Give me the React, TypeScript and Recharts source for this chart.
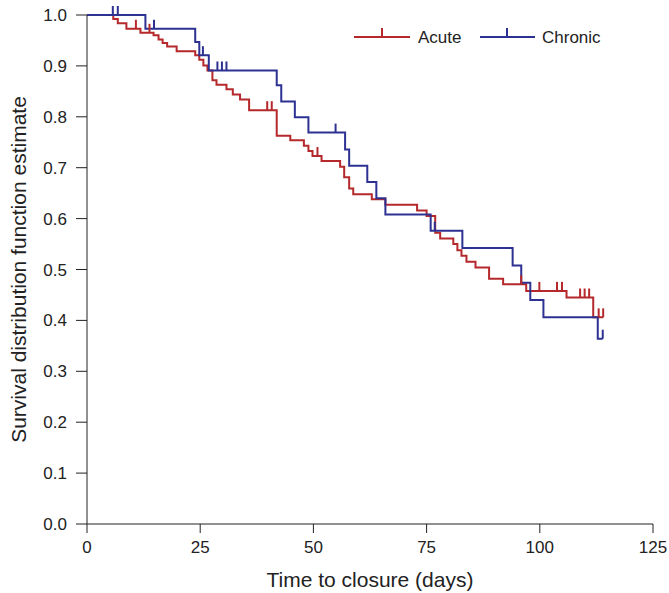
import React from "react";
import { ComposedChart, Line, Scatter, XAxis, YAxis } from "recharts";

const acuteTimes = [0, 5.8, 6.8, 8.7, 11.8, 14.7, 15.8, 16.7, 17.7, 19.8, 23.9, 24.8, 25.7, 26.6, 27.7, 28.6, 30.8, 32.2, 33.8, 35.8, 41.9, 44.9, 47.9, 48.9, 49.8, 51.8, 55.9, 56.8, 57.9, 58.8, 62.9, 65.9, 72.9, 75.0, 76.9, 78.0, 80.9, 81.8, 82.7, 83.8, 85.8, 88.8, 91.9, 97.0, 105.9, 111.8, 114.0];
const acuteSurv = [1.0, 0.992, 0.984, 0.973, 0.965, 0.96, 0.952, 0.945, 0.938, 0.929, 0.921, 0.912, 0.901, 0.891, 0.872, 0.863, 0.854, 0.844, 0.834, 0.813, 0.763, 0.754, 0.743, 0.733, 0.723, 0.713, 0.702, 0.681, 0.659, 0.648, 0.638, 0.627, 0.616, 0.605, 0.572, 0.561, 0.55, 0.538, 0.527, 0.515, 0.504, 0.482, 0.471, 0.458, 0.445, 0.406, 0.406];
const acuteCensored = [10.8, 13.8, 39.8, 40.8, 50.9, 95.9, 99.9, 103.8, 104.9, 108.9, 109.9, 110.9, 113.0, 114.0];

const chronicTimes = [0, 12.9, 23.9, 24.8, 26.9, 41.9, 42.9, 45.9, 48.9, 57.0, 57.9, 61.9, 63.9, 65.9, 75.9, 82.9, 94.0, 95.9, 97.9, 100.8, 112.8, 113.9];
const chronicSurv = [1.0, 0.973, 0.947, 0.921, 0.891, 0.862, 0.83, 0.799, 0.769, 0.736, 0.704, 0.672, 0.64, 0.608, 0.576, 0.542, 0.508, 0.474, 0.44, 0.406, 0.364, 0.364];
const chronicCensored = [5.7, 6.8, 14.8, 25.6, 28.8, 29.8, 30.8, 54.9, 76.8, 113.9];

const seriesNames = ["Acute", "Chronic"];
const xTicks = [0, 25, 50, 75, 100, 125];
const yTicks = [0, 0.1, 0.2, 0.3, 0.4, 0.5, 0.6, 0.7, 0.8, 0.9, 1.0];

const RED = "#b5282b";
const BLUE = "#2d3192";
const FONT = "'Liberation Sans', Arial, sans-serif";
const TXT = "#222";

const toSteps = (times: number[], surv: number[]) => times.map((t, i) => ({ t, s: surv[i] }));
const survAt = (times: number[], surv: number[], x: number) => {
  let v = surv[0];
  for (let i = 0; i < times.length; i++) if (times[i] <= x) v = surv[i];
  return v;
};
const toCensor = (c: number[], times: number[], surv: number[]) => c.map((t) => ({ t, s: survAt(times, surv, t) }));

const acuteData = toSteps(acuteTimes, acuteSurv);
const chronicData = toSteps(chronicTimes, chronicSurv);
const acuteCens = toCensor(acuteCensored, acuteTimes, acuteSurv);
const chronicCens = toCensor(chronicCensored, chronicTimes, chronicSurv);

const tickShape = (color: string) => (props: any) => {
  const { cx, cy } = props;
  return <line x1={cx} x2={cx} y1={cy} y2={cy - 9} stroke={color} strokeWidth={2} />;
};

const LegendOverlay = () => (
  <svg width={280} height={38} style={{ position: "absolute", left: 352, top: 14 }}>
    <line x1={2} x2={58} y1={23} y2={23} stroke={RED} strokeWidth={2} />
    <line x1={30} x2={30} y1={14} y2={23} stroke={RED} strokeWidth={2} />
    <text x={66} y={29} fontSize={17} fontFamily={FONT} fill={TXT}>{seriesNames[0]}</text>
    <line x1={128} x2={183} y1={23} y2={23} stroke={BLUE} strokeWidth={2} />
    <line x1={155} x2={155} y1={14} y2={23} stroke={BLUE} strokeWidth={2} />
    <text x={190} y={29} fontSize={17} fontFamily={FONT} fill={TXT}>{seriesNames[1]}</text>
  </svg>
);

export default function App() {
  return (
    <div style={{ position: "relative", width: 669, height: 593 }}>
      <style>{`body { margin: 0; }`}</style>
      <ComposedChart width={669} height={593} margin={{ top: 15, right: 16, bottom: 0, left: 0 }}>
        <XAxis
          type="number"
          dataKey="t"
          domain={[0, 125]}
          ticks={xTicks}
          allowDataOverflow
          height={69}
          tickSize={9}
          tickMargin={8}
          stroke="#222"
          tick={{ fill: TXT, fontSize: 17, fontFamily: FONT }}
          label={{ value: "Time to closure (days)", position: "insideBottom", offset: 6, style: { fill: TXT, fontSize: 21, fontFamily: FONT } }}
        />
        <YAxis
          type="number"
          dataKey="s"
          domain={[0, 1]}
          ticks={yTicks}
          width={87}
          tickSize={11}
          tickMargin={9}
          stroke="#222"
          tickFormatter={(v: number) => v.toFixed(1)}
          tick={{ fill: TXT, fontSize: 17, fontFamily: FONT }}
          label={{ value: "Survival distribution function estimate", angle: -90, position: "insideLeft", offset: 19, style: { textAnchor: "middle", fill: TXT, fontSize: 21, fontFamily: FONT } }}
        />
        <Line data={acuteData} dataKey="s" name={seriesNames[0]} type="stepAfter" stroke={RED} strokeWidth={2} dot={false} isAnimationActive={false} />
        <Line data={chronicData} dataKey="s" name={seriesNames[1]} type="stepAfter" stroke={BLUE} strokeWidth={2} dot={false} isAnimationActive={false} />
        <Scatter data={acuteCens} dataKey="s" shape={tickShape(RED)} isAnimationActive={false} />
        <Scatter data={chronicCens} dataKey="s" shape={tickShape(BLUE)} isAnimationActive={false} />
      </ComposedChart>
      <LegendOverlay />
    </div>
  );
}
